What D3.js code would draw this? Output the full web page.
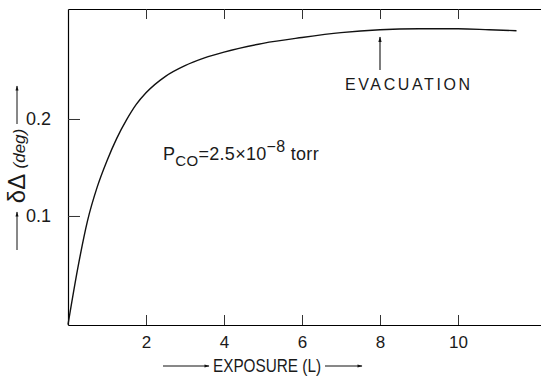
<!DOCTYPE html>
<html><head><meta charset="utf-8">
<script src="https://cdn.jsdelivr.net/npm/d3@7"></script>
<style>
body{margin:0;background:#fff;}
text{font-family:"Liberation Sans","DejaVu Sans",sans-serif;fill:#1a1a1a;}
</style></head>
<body><svg id="c" width="541" height="379"></svg>
<script>
const exposure = [0, 0.25, 0.5, 0.75, 1.0, 1.25, 1.5, 1.75, 2.0, 2.5, 3.0, 3.5, 4.0, 5.0, 6.0, 7.0, 8.0, 9.0, 10.0, 10.8, 11.5];
const deltaDelta = [-0.012, 0.046, 0.095, 0.13, 0.157, 0.18, 0.199, 0.215, 0.227, 0.244, 0.255, 0.263, 0.269, 0.278, 0.284, 0.289, 0.292, 0.293, 0.293, 0.292, 0.291];
const xTicks = [2, 4, 6, 8, 10];
const yTicks = [0.1, 0.2];
const evacuationAt = 8;

const svg = d3.select("#c");
const L = 68, R = 541, T = 9, B = 325;
const x = d3.scaleLinear().domain([0, (R - L) / 39]).range([L, R]);
const y = d3.scaleLinear().domain([-0.0124, 0.3134]).range([B, T]);

svg.append("g").attr("transform", `translate(0,${B})`)
  .call(d3.axisBottom(x).tickValues(xTicks).tickSizeInner(-10).tickSizeOuter(0).tickFormat(d3.format("d")).tickPadding(18))
  .call(g => g.select(".domain").attr("stroke-width", 1.2))
  .call(g => g.selectAll("line").attr("stroke", "#333"))
  .call(g => g.selectAll("text").attr("font-size", 17).attr("dy", "0.3em"));
svg.append("g").attr("transform", `translate(0,${T})`)
  .call(d3.axisTop(x).tickValues(xTicks).tickSizeInner(-10).tickSizeOuter(0).tickFormat(""))
  .call(g => g.selectAll("line").attr("stroke", "#333"))
  .call(g => g.select(".domain").attr("stroke-width", 1.2));
svg.append("g").attr("transform", `translate(${L},0)`)
  .call(d3.axisLeft(y).tickValues(yTicks).tickSizeInner(-12).tickSizeOuter(0).tickFormat(d3.format(".1f")))
  .call(g => g.select(".domain").attr("stroke-width", 1.2))
  .call(g => g.selectAll("line").attr("stroke", "#333"))
  .call(g => g.selectAll("text").attr("font-size", 18).attr("text-anchor", "end").attr("x", -17));

const line = d3.line().x((d, i) => x(exposure[i])).y(d => y(d)).curve(d3.curveMonotoneX);
svg.append("path").datum(deltaDelta).attr("d", line)
  .attr("fill", "none").attr("stroke", "#111").attr("stroke-width", 1.4);

const defs = svg.append("defs");
defs.append("marker").attr("id", "ah").attr("viewBox", "0 0 10 10").attr("refX", 9).attr("refY", 5)
  .attr("markerWidth", 7).attr("markerHeight", 5).attr("orient", "auto-start-reverse")
  .append("path").attr("d", "M0,2 L10,5 L0,8 z").attr("fill", "#111");

const ex = x(evacuationAt);
svg.append("line").attr("x1", ex).attr("x2", ex).attr("y1", 70).attr("y2", 37)
  .attr("stroke", "#111").attr("stroke-width", 1.1).attr("marker-end", "url(#ah)");
svg.append("text").attr("x", 345).attr("y", 90).attr("font-size", 16).attr("letter-spacing", 2.6)
  .text("EVACUATION");

const p = svg.append("text").attr("x", 163).attr("y", 160).attr("font-size", 18).attr("letter-spacing", 0.3);
p.append("tspan").text("P");
p.append("tspan").attr("font-size", 15).attr("dy", 6).text("CO");
p.append("tspan").attr("dy", -6).text("=2.5×10");
p.append("tspan").attr("font-size", 16).attr("dy", -8).text("−8");
p.append("tspan").attr("dy", 8).text(" torr");

svg.append("line").attr("x1", 163).attr("x2", 209).attr("y1", 366).attr("y2", 366)
  .attr("stroke", "#111").attr("marker-end", "url(#ah)");
svg.append("text").attr("x", 213).attr("y", 372).attr("font-size", 18)
  .attr("textLength", 108).attr("lengthAdjust", "spacingAndGlyphs")
  .text("EXPOSURE (L)");
svg.append("line").attr("x1", 325).attr("x2", 362).attr("y1", 366).attr("y2", 366)
  .attr("stroke", "#111").attr("marker-end", "url(#ah)");

const yl = svg.append("g").attr("transform", "translate(17,0)");
yl.append("line").attr("x1", 0).attr("x2", 0).attr("y1", 250).attr("y2", 212)
  .attr("stroke", "#111").attr("marker-end", "url(#ah)");
yl.append("line").attr("x1", 0).attr("x2", 0).attr("y1", 124).attr("y2", 86)
  .attr("stroke", "#111").attr("marker-end", "url(#ah)");
const yt = yl.append("text").attr("transform", "translate(8,166) rotate(-90)").attr("text-anchor", "middle");
yt.append("tspan").attr("font-size", 24).text("δΔ ");
yt.append("tspan").attr("font-size", 17).attr("font-style", "italic").text("(deg)");
</script></body></html>
